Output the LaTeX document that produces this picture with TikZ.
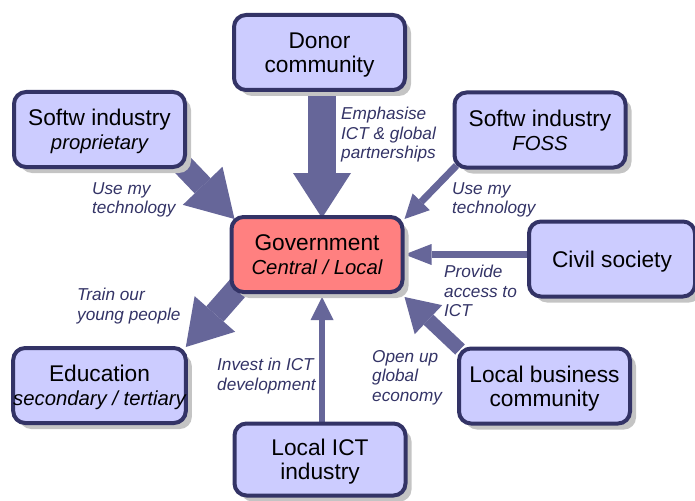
\documentclass[tikz,border=0pt]{standalone}
\usepackage{fontspec}
\setmainfont{Liberation Sans}
\usetikzlibrary{arrows.meta,shadows,calc,backgrounds}
\definecolor{boxfill}{HTML}{CCCCFF}
\definecolor{boxline}{HTML}{333366}
\definecolor{arrowc}{HTML}{666699}
\definecolor{govfill}{HTML}{FF8080}
\definecolor{labelc}{HTML}{333366}
\definecolor{shadowc}{HTML}{C4C4C4}
\newcommand\subline[1]{{\fontsize{20.3}{24}\selectfont\itshape #1}}
\tikzset{
  actor/.style={draw=boxline, fill=boxfill, line width=4pt, rounded corners=12pt,
    minimum width=171pt, minimum height=75pt, align=center, inner sep=0pt,
    text depth=0pt,
    font=\fontsize{22.7}{24.3}\selectfont,
    drop shadow={shadow xshift=6pt, shadow yshift=-6pt, fill=shadowc, opacity=1}},
  lbl/.style={anchor=north west, inner sep=0pt, align=left, text=labelc,
    font=\fontsize{17.2}{19.5}\selectfont\itshape},
  fat/.style n args={3}{draw=arrowc, line width=#1pt,
    -{Triangle[length=#3pt,width=#2pt,line width=0pt]}},
}
\begin{document}
\begin{tikzpicture}[x=1pt,y=-1pt]
\useasboundingbox (0,0) rectangle (695,500);
% boxes
\node[actor] (donor) at (319.5,52.5) {Donor\\community};
\node[actor] (prop) at (99.5,129.5) {Softw industry\\\subline{proprietary}};
\node[actor] (foss) at (540,130) {Softw industry\\\subline{FOSS}};
\node[actor, fill=govfill] (gov) at (317,254.5) {Government\\\subline{Central / Local}};
\node[actor, minimum width=166pt] (civil) at (612,259) {Civil society};
\node[actor] (biz) at (544.5,386) {Local business\\community};
\node[actor] (edu) at (99.5,385.5) {Education\\\subline{secondary / tertiary}};
\node[actor, minimum height=72pt] (ict) at (320,459.5) {Local ICT\\industry};
% arrows
\begin{pgfonlayer}{background}
\draw[fat={28}{58}{45}] ($(donor.south)+(2.5,-2)$) -- ($(gov.north)+(5,3)$);
\draw[fat={22}{55}{46}] ($(prop.south east)+(-12,-12)$) -- ($(gov.north west)+(5,4)$);
\draw[fat={7}{24}{24}] ($(foss.south west)+(4,-4)$) -- ($(gov.north east)+(0,4)$);
\draw[fat={7}{21}{27}] ($(civil.west)+(2,-4.5)$) -- (gov.east);
\draw[fat={14}{40}{33}] ($(biz.north west)+(3,3)$) -- ($(gov.south east)+(0,3)$);
\draw[fat={6}{23}{23}] ($(ict.north)+(2,2)$) -- ($(gov.south)+(5,3)$);
\draw[fat={23}{54}{44}] ($(gov.south west)+(10,-8)$) -- ($(edu.north east)+(-2,1)$);
\end{pgfonlayer}
% labels
\node[lbl] (l1) at (341,107) {Emphasise\\ICT \& global\\partnerships};
\node[lbl] (l2) at (92,182) {Use my\\technology};
\node[lbl] (l3) at (452,182) {Use my\\technology};
\node[lbl] (l4) at (444,265) {Provide\\access to\\ICT};
\node[lbl] (l5) at (372,350) {Open up\\global\\economy};
\node[lbl] (l6) at (217,358) {Invest in ICT\\development};
\node[lbl] (l7) at (77,288) {Train our\\young people};
\end{tikzpicture}
\end{document}
